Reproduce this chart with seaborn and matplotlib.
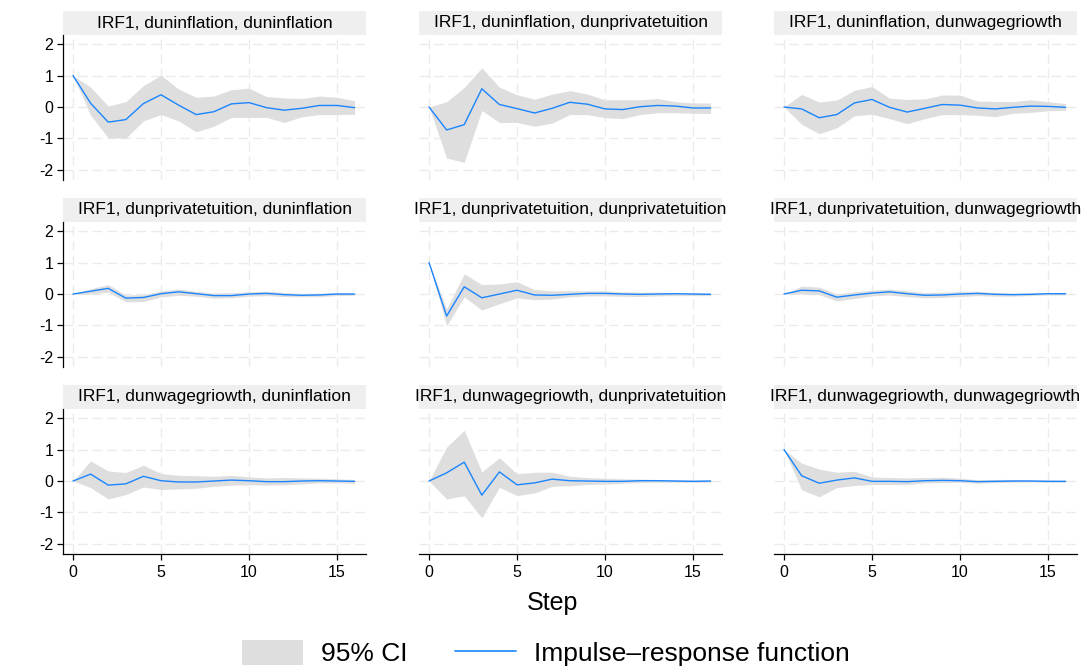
import pandas as pd
import matplotlib
matplotlib.use("Agg")
import matplotlib.pyplot as plt
from matplotlib.patches import Rectangle, Patch
from matplotlib.lines import Line2D
import seaborn as sns

# Data (step 0..16)
steps = list(range(17))

# Impulse duninflation
infl_infl_irf = [1.0, 0.12, -0.48, -0.40, 0.11, 0.39, 0.06, -0.24, -0.15, 0.10, 0.14, -0.02, -0.10, -0.04, 0.05, 0.05, -0.02]
infl_infl_hi = [1.0, 0.63, 0.03, 0.17, 0.68, 1.01, 0.57, 0.31, 0.35, 0.55, 0.60, 0.33, 0.29, 0.27, 0.35, 0.31, 0.20]
infl_infl_lo = [1.0, -0.26, -0.98, -0.99, -0.44, -0.24, -0.44, -0.79, -0.61, -0.33, -0.33, -0.33, -0.49, -0.31, -0.24, -0.24, -0.23]

infl_tuit_irf = [0.0, -0.73, -0.56, 0.58, 0.08, -0.05, -0.19, -0.04, 0.15, 0.09, -0.06, -0.08, 0.01, 0.05, 0.03, -0.03, -0.03]
infl_tuit_hi = [0.0, 0.17, 0.62, 1.25, 0.63, 0.39, 0.25, 0.41, 0.52, 0.41, 0.23, 0.23, 0.23, 0.27, 0.17, 0.13, 0.13]
infl_tuit_lo = [0.0, -1.62, -1.76, -0.11, -0.49, -0.49, -0.61, -0.51, -0.24, -0.24, -0.34, -0.37, -0.24, -0.18, -0.18, -0.20, -0.20]

infl_wage_irf = [0.0, -0.06, -0.34, -0.24, 0.13, 0.24, -0.01, -0.16, -0.04, 0.08, 0.06, -0.03, -0.06, -0.01, 0.03, 0.02, -0.01]
infl_wage_hi = [0.0, 0.40, 0.16, 0.22, 0.53, 0.65, 0.28, 0.24, 0.26, 0.38, 0.38, 0.19, 0.18, 0.17, 0.23, 0.17, 0.11]
infl_wage_lo = [0.0, -0.55, -0.85, -0.66, -0.28, -0.23, -0.37, -0.53, -0.37, -0.24, -0.24, -0.26, -0.31, -0.20, -0.17, -0.12, -0.10]

# Impulse dunprivatetuition
tuit_infl_irf = [0.0, 0.09, 0.18, -0.13, -0.11, 0.01, 0.07, 0.01, -0.05, -0.05, 0.0, 0.02, -0.02, -0.04, -0.03, 0.0, 0.0]
tuit_infl_hi = [0.0, 0.17, 0.30, -0.03, -0.02, 0.10, 0.16, 0.09, 0.03, 0.04, 0.07, 0.09, 0.05, 0.02, 0.03, 0.04, 0.04]
tuit_infl_lo = [0.0, 0.0, 0.06, -0.25, -0.24, -0.09, -0.04, -0.07, -0.13, -0.12, -0.07, -0.05, -0.08, -0.09, -0.08, -0.05, -0.04]

tuit_tuit_irf = [1.0, -0.70, 0.23, -0.12, 0.0, 0.12, -0.03, -0.04, -0.01, 0.02, 0.02, 0.0, -0.01, 0.0, 0.01, 0.0, -0.01]
tuit_tuit_hi = [1.0, -0.47, 0.64, 0.30, 0.32, 0.39, 0.14, 0.10, 0.10, 0.10, 0.10, 0.07, 0.06, 0.06, 0.05, 0.04, 0.03]
tuit_tuit_lo = [1.0, -1.01, -0.09, -0.51, -0.31, -0.12, -0.18, -0.16, -0.09, -0.06, -0.06, -0.07, -0.08, -0.06, -0.05, -0.05, -0.05]

tuit_wage_irf = [0.0, 0.12, 0.10, -0.10, -0.03, 0.03, 0.07, 0.01, -0.04, -0.03, 0.0, 0.02, -0.01, -0.02, -0.01, 0.01, 0.01]
tuit_wage_hi = [0.0, 0.25, 0.22, 0.0, 0.07, 0.12, 0.16, 0.10, 0.05, 0.06, 0.08, 0.09, 0.05, 0.03, 0.04, 0.05, 0.04]
tuit_wage_lo = [0.0, 0.0, -0.02, -0.22, -0.14, -0.06, -0.03, -0.08, -0.12, -0.11, -0.08, -0.05, -0.07, -0.07, -0.05, -0.03, -0.03]

# Impulse dunwagegriowth
wage_infl_irf = [0.0, 0.22, -0.13, -0.09, 0.15, 0.01, -0.03, -0.03, 0.0, 0.03, 0.01, -0.02, -0.02, 0.0, 0.01, 0.0, -0.01]
wage_infl_hi = [0.0, 0.64, 0.32, 0.27, 0.50, 0.24, 0.18, 0.17, 0.15, 0.18, 0.13, 0.10, 0.11, 0.10, 0.09, 0.07, 0.05]
wage_infl_lo = [0.0, -0.21, -0.57, -0.43, -0.19, -0.27, -0.25, -0.23, -0.17, -0.13, -0.12, -0.13, -0.12, -0.09, -0.06, -0.06, -0.07]

wage_tuit_irf = [0.0, 0.26, 0.60, -0.45, 0.29, -0.12, -0.06, 0.06, 0.01, 0.0, -0.01, -0.01, 0.01, 0.01, 0.0, -0.01, 0.0]
wage_tuit_hi = [0.0, 1.08, 1.61, 0.29, 0.74, 0.23, 0.28, 0.28, 0.15, 0.11, 0.09, 0.07, 0.06, 0.05, 0.04, 0.03, 0.03]
wage_tuit_lo = [0.0, -0.57, -0.47, -1.17, -0.20, -0.46, -0.38, -0.17, -0.15, -0.11, -0.10, -0.07, -0.05, -0.04, -0.04, -0.04, -0.04]

wage_wage_irf = [1.0, 0.17, -0.07, 0.03, 0.10, -0.01, -0.01, -0.02, 0.01, 0.02, 0.01, -0.02, -0.01, 0.0, 0.0, -0.01, -0.01]
wage_wage_hi = [1.0, 0.57, 0.38, 0.28, 0.31, 0.13, 0.11, 0.10, 0.11, 0.12, 0.09, 0.04, 0.05, 0.05, 0.04, 0.03, 0.02]
wage_wage_lo = [1.0, -0.28, -0.50, -0.21, -0.14, -0.11, -0.11, -0.11, -0.06, -0.05, -0.04, -0.07, -0.05, -0.04, -0.03, -0.04, -0.04]

variables = ["duninflation", "dunprivatetuition", "dunwagegriowth"]
panels = [
    [(infl_infl_irf, infl_infl_lo, infl_infl_hi), (infl_tuit_irf, infl_tuit_lo, infl_tuit_hi), (infl_wage_irf, infl_wage_lo, infl_wage_hi)],
    [(tuit_infl_irf, tuit_infl_lo, tuit_infl_hi), (tuit_tuit_irf, tuit_tuit_lo, tuit_tuit_hi), (tuit_wage_irf, tuit_wage_lo, tuit_wage_hi)],
    [(wage_infl_irf, wage_infl_lo, wage_infl_hi), (wage_tuit_irf, wage_tuit_lo, wage_tuit_hi), (wage_wage_irf, wage_wage_lo, wage_wage_hi)],
]

line_color = "#1a85ff"
ci_color = "#dedede"
strip_color = "#efefef"
grid_color = "#ebebeb"

sns.set_theme(style="white", rc={"text.color": "black", "xtick.color": "black",
                                 "ytick.color": "black", "axes.labelcolor": "black"})
plt.rcParams["font.family"] = ["Liberation Sans", "DejaVu Sans"]
plt.rcParams["axes.unicode_minus"] = False

fig = plt.figure(figsize=(10.85, 6.66), dpi=100)

W, H = 1085, 666
col_left = [63, 419, 774]
col_width = 303
row_top = [35, 222, 409]
row_height = 145
strip_px = 24

for r in range(3):
    for c in range(3):
        left = col_left[c] / W
        bottom = 1 - (row_top[r] + row_height) / H
        ax = fig.add_axes([left, bottom, col_width / W, row_height / H])
        irf, lo, hi = panels[r][c]
        df = pd.DataFrame({"step": steps, "irf": irf, "lo": lo, "hi": hi})

        ax.fill_between(df["step"], df["lo"], df["hi"], color=ci_color, lw=0, zorder=2)
        sns.lineplot(data=df, x="step", y="irf", ax=ax, color=line_color, lw=1.0, zorder=3)

        ax.set_xlim(-0.57, 16.65)
        ax.set_ylim(-2.32, 2.29)
        ax.set_xticks([0, 5, 10, 15])
        ax.set_yticks([-2, -1, 0, 1, 2])
        ax.grid(True, color=grid_color, lw=1.0, linestyle=(0, (7, 3.5)))
        ax.set_axisbelow(True)
        ax.set_xlabel("")
        ax.set_ylabel("")

        for s in ["top", "right"]:
            ax.spines[s].set_visible(False)
        ax.spines["left"].set_visible(c == 0)
        ax.spines["bottom"].set_visible(r == 2)
        ax.spines["left"].set_color("black")
        ax.spines["bottom"].set_color("black")
        ax.spines["left"].set_linewidth(0.9)
        ax.spines["bottom"].set_linewidth(0.9)

        ax.tick_params(axis="y", left=(c == 0), labelleft=(c == 0), length=4,
                       width=0.9, color="black", labelcolor="black", labelsize=11.5, pad=3)
        ax.tick_params(axis="x", bottom=(r == 2), labelbottom=(r == 2), length=4,
                       width=0.9, color="black", labelcolor="black", labelsize=11.5, pad=4)

        # strip header
        sh = strip_px / row_height
        ax.add_patch(Rectangle((0, 1), 1, sh, transform=ax.transAxes,
                               facecolor=strip_color, edgecolor="none", clip_on=False))
        ax.text(0.5, 1 + sh / 2, f"IRF1, {variables[r]}, {variables[c]}",
                transform=ax.transAxes, ha="center", va="center", fontsize=12.5,
                color="black")

fig.text(553 / W, 1 - 603 / H, "Step", ha="center", va="center", fontsize=18,
         color="black")

handles = [Patch(facecolor=ci_color, edgecolor="none"),
           Line2D([0], [0], color=line_color, lw=1.2)]
leg = fig.legend(handles, ["95% CI", "Impulse\u2013response function"], loc="center",
                 bbox_to_anchor=(546 / W, 1 - 653 / H), ncol=2, frameon=False,
                 fontsize=19, handlelength=2.3, handleheight=1.1, columnspacing=1.8,
                 handletextpad=0.7)
for t in leg.get_texts():
    t.set_color("black")

plt.savefig("out.png", dpi=100)
